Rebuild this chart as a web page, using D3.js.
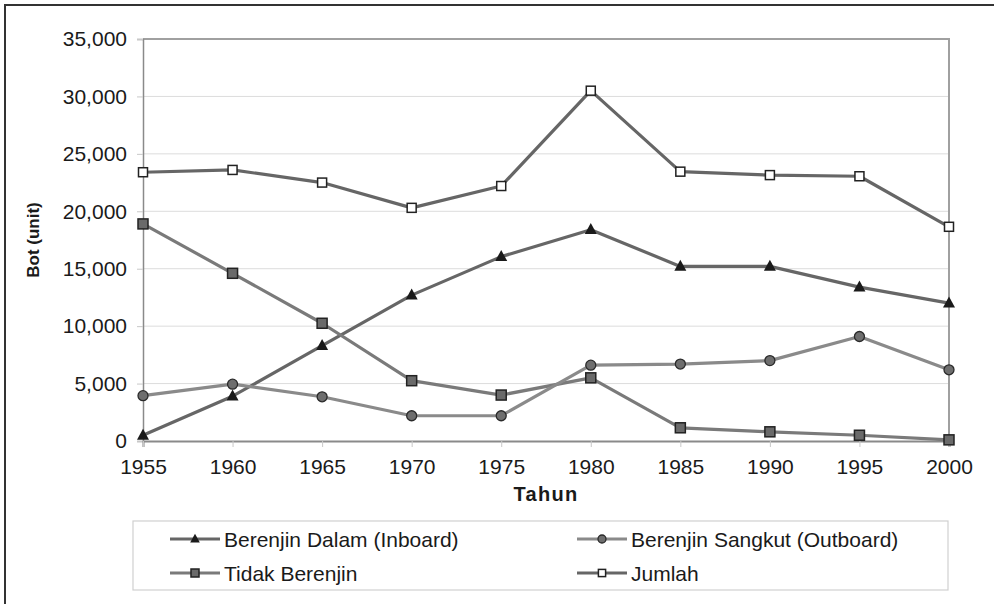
<!DOCTYPE html>
<html><head><meta charset="utf-8">
<script src="https://cdn.jsdelivr.net/npm/d3@7"></script>
<style>body{margin:0;background:#fff}svg{display:block}text{font-family:"Liberation Sans",Arial,sans-serif;fill:#1a1a1a}</style>
</head><body><svg id="c" width="994" height="604"></svg>
<script>
const years = [1955,1960,1965,1970,1975,1980,1985,1990,1995,2000];
const inboard = [500,3900,8300,12700,16050,18400,15200,15200,13400,12000];
const outboard = [3950,4950,3850,2200,2200,6600,6700,7000,9100,6200];
const tidak = [18900,14600,10250,5250,4000,5500,1150,800,500,100];
const jumlah = [23400,23600,22500,20300,22200,30500,23450,23150,23050,18650];
const yTicks = [0,5000,10000,15000,20000,25000,30000,35000];
const seriesNames = ["Berenjin Dalam (Inboard)","Berenjin Sangkut (Outboard)","Tidak Berenjin","Jumlah"];

const series = [
  {name:seriesNames[3], values:jumlah, line:"#666", marker:"squareOpen"},
  {name:seriesNames[0], values:inboard, line:"#666", marker:"triangle"},
  {name:seriesNames[2], values:tidak, line:"#7a7a7a", marker:"squareFill"},
  {name:seriesNames[1], values:outboard, line:"#8a8a8a", marker:"circle"}
];

const svg = d3.select("#c");
const L=143, R=949, T=39, B=441;
const x = d3.scalePoint().domain(years).range([L,R]);
const y = d3.scaleLinear().domain([0,35000]).range([B,T]);

// outer frame
svg.append("rect").attr("x",5).attr("y",5).attr("width",1000).attr("height",610)
  .attr("fill","none").attr("stroke","#333").attr("stroke-width",2);

// gridlines
svg.append("g").selectAll("line").data(yTicks.filter(d=>d>0&&d<35000)).join("line")
  .attr("x1",L).attr("x2",R).attr("y1",d=>y(d)).attr("y2",d=>y(d))
  .attr("stroke","#dcdcdc").attr("stroke-width",1);

// plot border top/right
svg.append("path").attr("d",`M${L},${T}H${R}V${B}`).attr("fill","none").attr("stroke","#a0a0a0").attr("stroke-width",2);

// y axis
const fmt = d3.format(",");
const yAx = d3.axisLeft(y).tickValues(yTicks).tickSize(6).tickPadding(10).tickFormat(fmt);
const gy = svg.append("g").attr("transform",`translate(${L},0)`).call(yAx);
gy.select(".domain").attr("stroke","#8a8a8a").attr("stroke-width",1.5);
gy.selectAll(".tick line").attr("stroke","#c8c8c8");
gy.selectAll(".tick text").attr("font-size",21).attr("font-family","Liberation Sans, Arial, sans-serif").attr("fill","#1a1a1a");

// x axis
const xAx = d3.axisBottom(x).tickSize(6).tickPadding(12);
const gx = svg.append("g").attr("transform",`translate(0,${B})`).call(xAx);
gx.select(".domain").attr("stroke","#8a8a8a").attr("stroke-width",2);
gx.selectAll(".tick line").attr("stroke","#c8c8c8");
gx.selectAll(".tick text").attr("font-size",21).attr("font-family","Liberation Sans, Arial, sans-serif").attr("fill","#1a1a1a");

// axis titles
svg.append("text").attr("x",(L+R)/2).attr("y",501).attr("text-anchor","middle")
  .attr("font-size",20).attr("font-weight","bold").attr("letter-spacing",1.3).text("Tahun");
svg.append("text").attr("transform",`translate(39,${(T+B)/2}) rotate(-90)`).attr("text-anchor","middle")
  .attr("font-size",17).attr("font-weight","bold").text("Bot (unit)");

function drawMarker(g, type, cx, cy, scale){
  const s = scale||1;
  if(type==="triangle"){
    const h=11*s, w=12*s;
    g.append("path").attr("d",`M${cx},${cy-h*0.6}L${cx+w/2},${cy+h*0.4}L${cx-w/2},${cy+h*0.4}Z`).attr("fill","#1a1a1a");
  } else if(type==="circle"){
    g.append("circle").attr("cx",cx).attr("cy",cy).attr("r",5*s).attr("fill","#6e6e6e").attr("stroke","#2a2a2a").attr("stroke-width",1.3);
  } else if(type==="squareFill"){
    const a=10*s;
    g.append("rect").attr("x",cx-a/2).attr("y",cy-a/2).attr("width",a).attr("height",a).attr("fill","#6a6a6a").attr("stroke","#222").attr("stroke-width",1.5);
  } else {
    const a=9*s;
    g.append("rect").attr("x",cx-a/2).attr("y",cy-a/2).attr("width",a).attr("height",a).attr("fill","#fff").attr("stroke","#222").attr("stroke-width",1.5);
  }
}

const line = d3.line().x((d,i)=>x(years[i])).y(d=>y(d));
series.forEach(s=>{
  svg.append("path").attr("d",line(s.values)).attr("fill","none").attr("stroke",s.line).attr("stroke-width",3.2).attr("stroke-linejoin","round");
});
series.forEach(s=>{
  const g = svg.append("g");
  s.values.forEach((v,i)=>drawMarker(g,s.marker,x(years[i]),y(v)));
});

// legend
svg.append("rect").attr("x",133).attr("y",521).attr("width",815).attr("height",69)
  .attr("fill","#fff").attr("stroke","#d0d0d0").attr("stroke-width",1.2);
const legItems = [
  {s:series[1], lx:170, ly:539},
  {s:series[3], lx:577, ly:539},
  {s:series[2], lx:170, ly:573},
  {s:series[0], lx:577, ly:573}
];
legItems.forEach(it=>{
  const g = svg.append("g");
  g.append("line").attr("x1",it.lx).attr("x2",it.lx+50).attr("y1",it.ly).attr("y2",it.ly).attr("stroke",it.s.line).attr("stroke-width",3);
  drawMarker(g,it.s.marker,it.lx+25,it.ly,0.8);
  g.append("text").attr("x",it.lx+54).attr("y",it.ly+7.5).attr("font-size",21).text(it.s.name);
});
</script></body></html>
